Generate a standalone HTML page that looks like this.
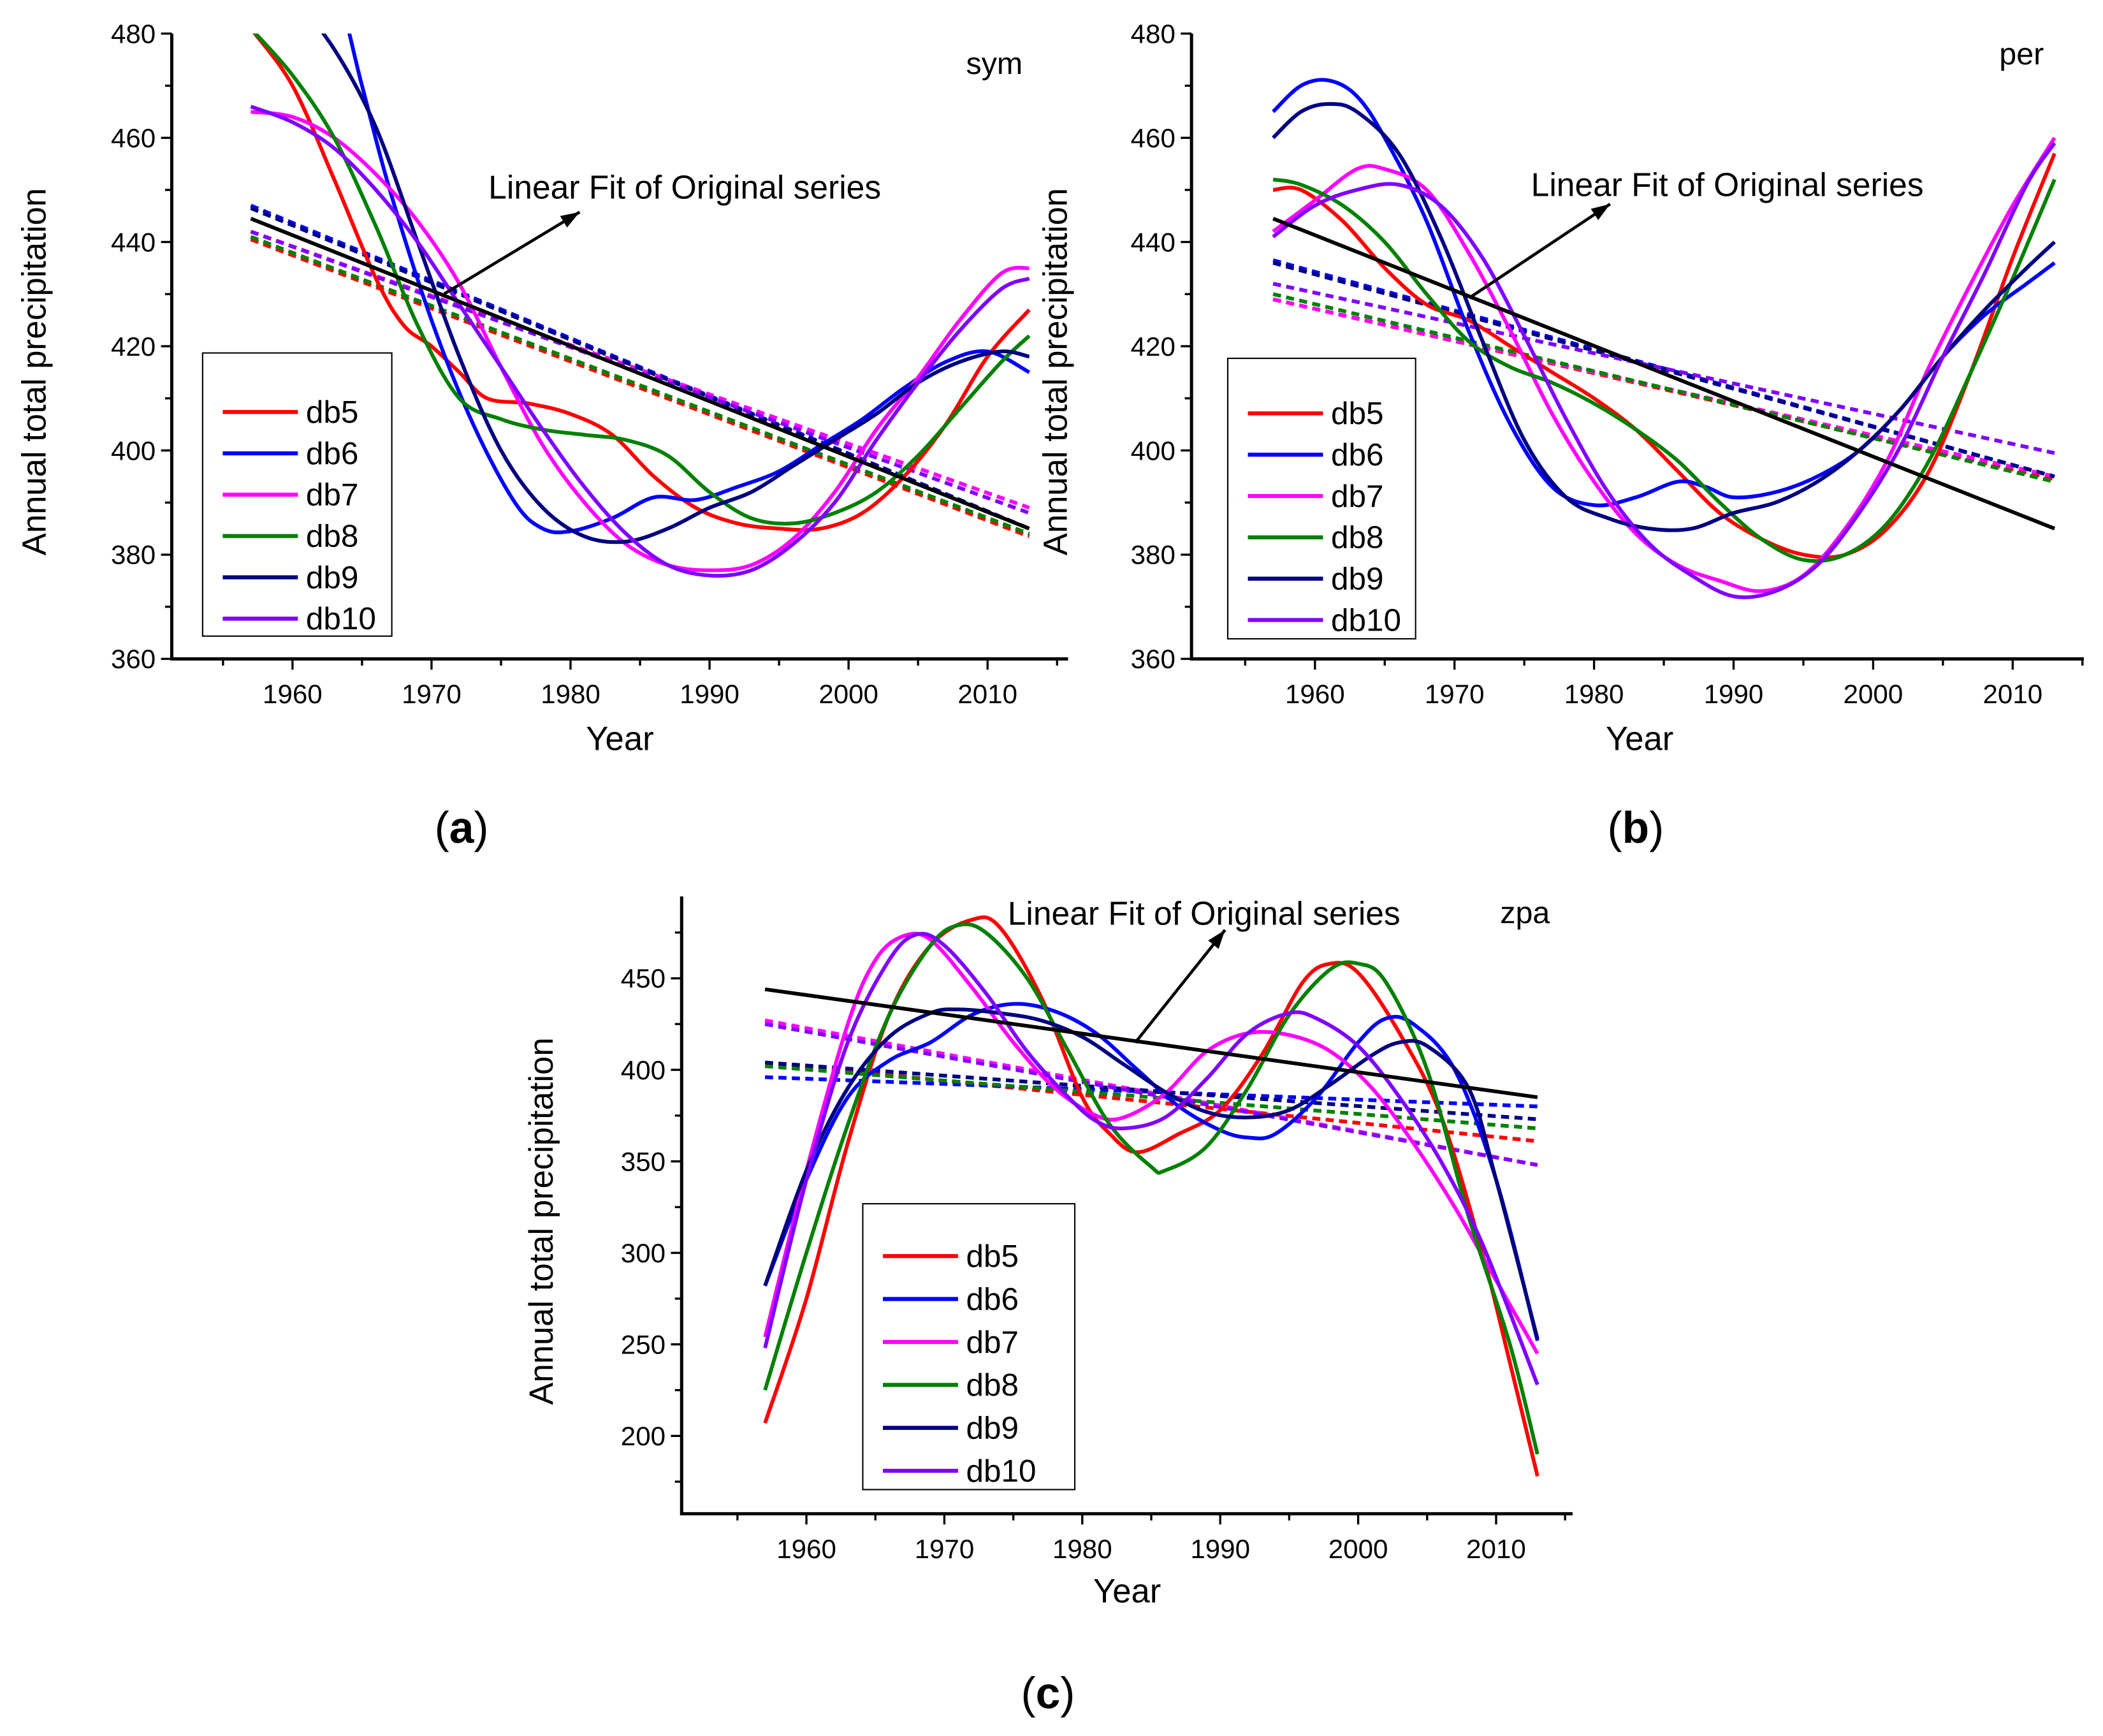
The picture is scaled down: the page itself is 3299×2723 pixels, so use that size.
<!DOCTYPE html>
<html><head><meta charset="utf-8"><style>
html,body{margin:0;padding:0;background:#fff}
svg{display:block}
text{font-family:"Liberation Sans",Arial,sans-serif}
</style></head><body>
<svg id="fig" width="3299" height="2723" viewBox="0 0 1567.3 1293.6" xmlns="http://www.w3.org/2000/svg"></svg>
<script>
const years = [1960,1970,1980,1990,2000,2010];
const seriesNames = ["db5","db6","db7","db8","db9","db10"];
const seriesColors = ["#ff0000","#0000ff","#ff00ff","#008000","#000080","#8000ff"];
// Panel a (sym)
const aYTicks = [360,380,400,420,440,460,480];
const aDb5 = [[1957,481],[1960,470],[1963,452],[1966,433],[1968,424],[1970,420],[1972,415],[1974,410],[1977,409],[1980,407],[1983,403],[1986,395],[1989,389],[1992,386],[1995,385],[1998,385],[2001,388],[2004,395],[2007,405],[2010,418],[2013,427]];
const aDb6 = [[1957,510],[1960,505],[1963,490],[1965,470],[1967,450],[1970,425],[1973,405],[1976,390],[1978,385],[1980,384.5],[1983,387],[1986,391],[1989,390.5],[1992,393],[1995,396],[1998,401],[2001,406],[2004,412],[2007,417],[2010,419],[2013,415]];
const aDb7 = [[1957,465],[1960,464],[1963,460],[1966,453],[1969,444],[1972,432],[1975,416],[1978,401],[1981,390],[1984,382],[1987,378],[1990,377],[1993,378],[1996,383],[1999,392],[2002,404],[2005,414],[2008,425],[2011,434],[2013,435]];
const aDb8 = [[1957,481],[1960,472],[1963,460],[1966,443],[1969,424],[1972,410],[1975,406],[1978,404],[1981,403],[1984,402],[1987,399],[1990,392],[1993,387],[1996,386],[1999,388],[2002,392],[2005,399],[2008,408],[2011,417],[2013,422]];
const aDb9 = [[1957,495],[1960,487],[1963,477],[1966,462],[1969,440],[1972,418],[1975,400],[1978,389],[1981,383.5],[1984,382.5],[1987,385],[1990,389],[1993,392],[1996,397],[1999,402],[2002,407],[2005,413],[2008,417],[2011,419],[2013,418]];
const aDb10 = [[1957,466],[1960,463],[1963,458],[1966,450],[1969,440],[1972,428],[1975,416],[1978,404],[1981,393],[1984,384],[1987,378],[1990,376],[1993,377],[1996,382],[1999,390],[2002,402],[2005,413],[2008,423],[2011,431],[2013,433]];
const aFitStart = [440.5,447,442,441,446.5,442];
const aFitEnd = [383.5,385,389,384,385,388];
const aOrigFit = [444.5,385];
// Panel b (per)
const bDb5 = [[1957,450],[1959,450],[1962,444],[1965,435],[1968,428],[1971,425],[1974,420],[1977,415],[1980,410],[1983,404],[1986,396],[1989,388],[1992,383],[1995,380],[1998,380],[2001,385],[2004,396],[2007,415],[2010,437],[2013,457]];
const bDb6 = [[1957,465],[1959,470],[1961,471],[1963,468],[1965,460],[1968,444],[1971,423],[1974,405],[1977,393],[1980,389.5],[1983,391],[1986,394],[1988,393],[1990,391],[1993,392],[1996,395],[1999,400],[2002,408],[2005,418],[2008,426],[2011,432],[2013,436]];
const bDb7 = [[1957,442],[1960,448],[1963,454],[1965,454],[1968,450],[1971,438],[1974,423],[1977,407],[1980,394],[1983,384],[1986,378],[1989,375],[1992,373],[1995,376],[1998,385],[2001,398],[2004,416],[2007,432],[2010,447],[2013,460]];
const bDb8 = [[1957,452],[1959,451],[1962,447],[1965,440],[1968,430],[1971,421],[1974,416],[1977,413],[1980,409],[1983,404],[1986,398],[1989,390],[1992,383],[1995,379],[1998,380],[2001,386],[2004,398],[2007,415],[2010,433],[2013,452]];
const bDb9 = [[1957,460],[1959,465],[1961,466.5],[1963,465],[1966,457],[1969,441],[1972,421],[1975,402],[1978,391],[1981,387],[1984,385],[1987,385],[1990,388],[1993,390],[1996,394],[1999,400],[2002,408],[2005,418],[2008,427],[2011,435],[2013,440]];
const bDb10 = [[1957,441],[1960,447],[1963,450],[1966,451],[1969,447],[1972,437],[1975,422],[1978,406],[1981,392],[1984,382],[1987,376],[1990,372],[1993,373],[1996,378],[1999,388],[2002,401],[2005,418],[2008,434],[2011,451],[2013,459]];
const bFitStart = [429,436.5,429,430,436,432];
const bFitEnd = [394.5,395,395,394,395,399.5];
const bOrigFit = [444.5,385];
// Panel c (zpa)
const cYTicks = [200,250,300,350,400,450];
const cDb5 = [[1957,207],[1960,275],[1963,360],[1966,430],[1969,468],[1972,482],[1974,478],[1977,440],[1980,385],[1982,365],[1984,355],[1987,365],[1990,378],[1993,408],[1996,448],[1998,458],[2000,453],[2003,420],[2006,375],[2009,300],[2011,240],[2013,178]];
const cDb6 = [[1957,282],[1960,340],[1963,385],[1966,405],[1969,415],[1972,430],[1975,436],[1978,432],[1981,420],[1984,400],[1987,380],[1990,367],[1992,363],[1994,365],[1997,385],[2000,415],[2002,428],[2004,425],[2007,400],[2010,340],[2013,252]];
const cDb7 = [[1957,254],[1960,345],[1963,425],[1965,460],[1967,473],[1969,471],[1972,445],[1975,415],[1978,390],[1981,375],[1983,374],[1986,387],[1989,410],[1992,420],[1995,419],[1998,410],[2001,390],[2004,360],[2007,325],[2010,285],[2013,245]];
const cDb8 = [[1957,225],[1960,300],[1963,370],[1966,430],[1969,468],[1971,479],[1973,475],[1976,450],[1979,410],[1982,370],[1985,347],[1986,345],[1989,358],[1992,390],[1995,430],[1998,455],[2000,458],[2002,448],[2005,400],[2008,320],[2011,250],[2013,190]];
const cDb9 = [[1957,282],[1960,345],[1963,390],[1966,418],[1969,431],[1971,433],[1974,431],[1977,427],[1980,418],[1983,403],[1986,388],[1989,377],[1992,374],[1995,378],[1998,392],[2001,408],[2003,415],[2005,413],[2008,390],[2010,340],[2013,253]];
const cDb10 = [[1957,248],[1960,340],[1963,415],[1966,460],[1968,474],[1970,468],[1973,442],[1976,410],[1979,385],[1981,372],[1983,368],[1986,374],[1989,395],[1992,420],[1995,431],[1997,428],[2000,413],[2003,385],[2006,350],[2009,305],[2013,228]];
const cFitStart = [404,396,427,402,404,425];
const cFitEnd = [361,380,348,368,373,348];
const cOrigFit = [444,385];

const NS="http://www.w3.org/2000/svg";
const svg=document.getElementById('fig');
function mk(tag,attrs,parent){const e=document.createElementNS(NS,tag);for(const k in attrs)e.setAttribute(k,attrs[k]);(parent||svg).appendChild(e);return e;}
function smooth(pts){let d=`M${pts[0][0]},${pts[0][1]}`;for(let i=0;i<pts.length-1;i++){const p0=pts[i-1]||pts[i],p1=pts[i],p2=pts[i+1],p3=pts[i+2]||p2;d+=` C${p1[0]+(p2[0]-p0[0])/6},${p1[1]+(p2[1]-p0[1])/6} ${p2[0]-(p3[0]-p1[0])/6},${p2[1]-(p3[1]-p1[1])/6} ${p2[0]},${p2[1]}`;}return d;}

function panel(cfg){
  const g=mk('g',{});
  
  
  const X=y=>cfg.x0+(y-1960)*cfg.xs;
  const Y=v=>cfg.y0+(cfg.v0-v)*cfg.ys;
  const clipId='clip-'+cfg.name;
  const cp=mk('clipPath',{id:clipId},g);mk('rect',{x:cfg.left,y:cfg.top,width:cfg.right-cfg.left,height:cfg.bottom-cfg.top},cp);
  const ax=mk('path',{d:`M${cfg.left},${cfg.top} V${cfg.bottom} H${cfg.right}`,stroke:'#000','stroke-width':2.4,fill:'none'},g);
  
  
  for(let yr=1955;yr<=2015;yr+=5){const x=X(yr);if(x<=cfg.left+2||x>cfg.right)continue;const maj=yr%10===0;mk('line',{x1:x,x2:x,y1:cfg.bottom,y2:cfg.bottom+(maj?8:5),stroke:'#000','stroke-width':1.6},g);}
  years.forEach(yr=>{const t=mk('text',{x:X(yr),y:cfg.bottom+33,'text-anchor':'middle','font-size':20},g);t.textContent=yr;});
  const step=cfg.yt[1]-cfg.yt[0];
  for(let v=cfg.yt[0]-step/2;v<=cfg.vmax;v+=step/2){const y=Y(v);if(y>cfg.bottom||y<cfg.top-1)continue;const maj=cfg.yt.includes(v);mk('line',{x1:cfg.left,x2:cfg.left-(maj?8:5),y1:y,y2:y,stroke:'#000','stroke-width':1.6},g);}
  cfg.yt.forEach(v=>{const t=mk('text',{x:cfg.left-12,y:Y(v)+7,'text-anchor':'end','font-size':20},g);t.textContent=v;});
  const yt=mk('text',{x:0,y:0,'text-anchor':'middle','font-size':25,transform:`translate(${cfg.ytx},${cfg.yty}) rotate(-90)`},g);yt.textContent='Annual total precipitation';
  
  const xt=mk('text',{x:cfg.xtx,y:cfg.xty,'text-anchor':'middle','font-size':25},g);xt.textContent='Year';
  
  const pl=mk('g',{'clip-path':`url(#${clipId})`},g);
  cfg.fs.forEach((s,i)=>{const l=mk('line',{x1:X(1957),y1:Y(s),x2:X(2013),y2:Y(cfg.fe[i]),stroke:seriesColors[i],'stroke-width':2.8,'stroke-dasharray':'6 4'},pl);
    });
  cfg.series.forEach((s,i)=>{const p=mk('path',{d:smooth(s.map(q=>[X(q[0]),Y(q[1])])),stroke:seriesColors[i],'stroke-width':2.8,fill:'none'},pl);
    });
  const of=mk('line',{x1:X(1957),y1:Y(cfg.of[0]),x2:X(2013),y2:Y(cfg.of[1]),stroke:'#000','stroke-width':2.8},pl);
  
  const a=cfg.arrow;mk('line',{x1:a[0],y1:a[1],x2:a[2],y2:a[3],stroke:'#000','stroke-width':2.2},g);
  const ang=Math.atan2(a[3]-a[1],a[2]-a[0]),L=14,W=5;
  const bx=a[2]-L*Math.cos(ang),by=a[3]-L*Math.sin(ang);
  const ah=mk('polygon',{points:`${a[2]},${a[3]} ${bx-W*Math.sin(ang)},${by+W*Math.cos(ang)} ${bx+W*Math.sin(ang)},${by-W*Math.cos(ang)}`,fill:'#000'},g);
  
  const at=mk('text',{x:cfg.atx,y:cfg.aty,'font-size':24.5},g);at.textContent='Linear Fit of Original series';
  
  const tl=mk('text',{x:cfg.tx,y:cfg.ty,'font-size':23},g);tl.textContent=cfg.title;
  
  const lg=mk('g',{},g);
  const b=cfg.leg;mk('rect',{x:b[0],y:b[1],width:b[2],height:b[3],fill:'#fff',stroke:'#000','stroke-width':1},lg);
  seriesNames.forEach((n,i)=>{const y=b[4]+i*b[5];
    const e=mk('g',{},lg);
    mk('line',{x1:b[0]+15,x2:b[0]+71,y1:y,y2:y,stroke:seriesColors[i],'stroke-width':3},e);
    const t=mk('text',{x:b[0]+77,y:y+8,'font-size':23.5},e);t.textContent=n;});
  const pt=mk('text',{x:cfg.ptx,y:cfg.pty,'text-anchor':'middle','font-size':33,'font-family':'"Liberation Serif",serif'},g);
  pt.innerHTML='(<tspan font-weight="bold">'+cfg.pl+'</tspan>)';
  
}

panel({name:'panel-a-sym',x0:218,xs:10.36,y0:25,v0:480,ys:3.883,vmax:480,left:128,top:25,right:796,bottom:491,yt:aYTicks,
  ytx:34,yty:277,xtx:462,xty:559,series:[aDb5,aDb6,aDb7,aDb8,aDb9,aDb10],fs:aFitStart,fe:aFitEnd,of:aOrigFit,
  arrow:[331,219,432,158],atx:364,aty:148,title:'sym',tx:720,ty:55,leg:[151,263,141,211,307,30.8],ptx:344,pty:628,pl:'a'});
panel({name:'panel-b-per',x0:980,xs:10.4,y0:25,v0:480,ys:3.883,vmax:480,left:888,top:25,right:1553,bottom:491,yt:aYTicks,
  ytx:795,yty:277,xtx:1222,xty:559,series:[bDb5,bDb6,bDb7,bDb8,bDb9,bDb10],fs:bFitStart,fe:bFitEnd,of:bOrigFit,
  arrow:[1095,222,1200,152],atx:1141,aty:146,title:'per',tx:1490,ty:48,leg:[915,267,140,209,308,30.8],ptx:1219,pty:628,pl:'b'});
panel({name:'panel-c-zpa',x0:601,xs:10.28,y0:729,v0:450,ys:1.364,vmax:487,left:508,top:668,right:1172,bottom:1128,yt:cYTicks,
  ytx:412,yty:910,xtx:840,xty:1194,series:[cDb5,cDb6,cDb7,cDb8,cDb9,cDb10],fs:cFitStart,fe:cFitEnd,of:cOrigFit,
  arrow:[846,777,913,693],atx:751,aty:689,title:'zpa',tx:1118,ty:688,leg:[643,897,158,213,936,32],ptx:781,pty:1273,pl:'c'});
</script>
</body></html>
